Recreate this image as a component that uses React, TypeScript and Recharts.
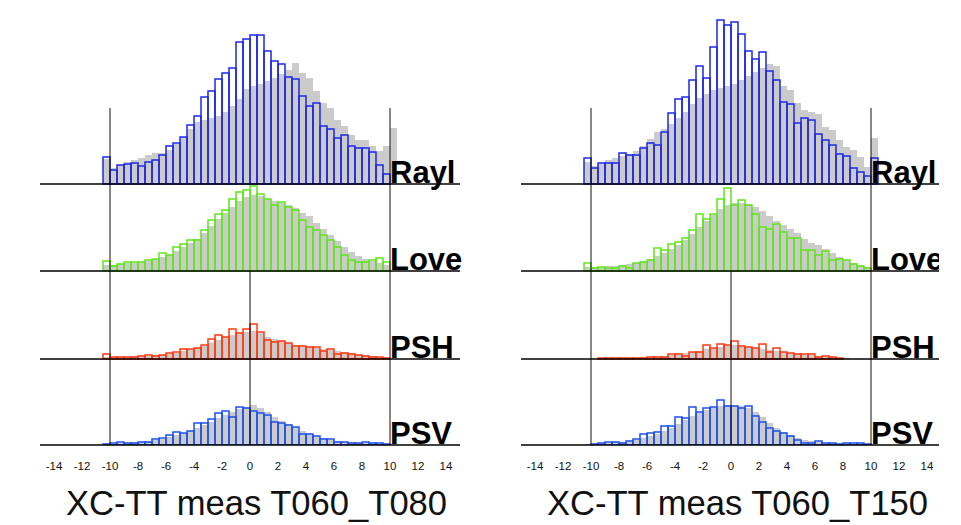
import { ComposedChart, Bar, XAxis, YAxis, ReferenceLine } from 'recharts';

// bin centres, 0.5 wide
const BIN_CENTERS = [
  -10.25, -9.75, -9.25, -8.75, -8.25, -7.75, -7.25, -6.75, -6.25, -5.75, -5.25, -4.75, -4.25, -3.75,
  -3.25, -2.75, -2.25, -1.75, -1.25, -0.75, -0.25, 0.25, 0.75, 1.25, 1.75, 2.25, 2.75, 3.25, 3.75,
  4.25, 4.75, 5.25, 5.75, 6.25, 6.75, 7.25, 7.75, 8.25, 8.75, 9.25, 9.75, 10.25,
];
const X_TICKS = [-14, -12, -10, -8, -6, -4, -2, 0, 2, 4, 6, 8, 10, 12, 14];
const PHASES = ['Rayl', 'Love', 'PSH', 'PSV'];
const TITLES = ['XC-TT meas T060_T080', 'XC-TT meas T060_T150'];

// left panel (T060_T080)
const L_RAYL = [27, 14, 19, 20, 21, 18, 22, 24, 29, 38, 41, 47, 59, 68, 87, 93, 105, 111, 116, 142, 145, 149, 149, 133, 123, 120, 107, 105, 88, 78, 81, 58, 55, 46, 49, 38, 36, 36, 32, 19, 10, 0];
const L_RAYL_REF = [25, 16, 19, 22, 24, 26, 29, 31, 31, 34, 40, 47, 55, 62, 64, 66, 68, 72, 78, 85, 95, 98, 100, 103, 106, 110, 114, 121, 111, 106, 93, 81, 76, 64, 58, 49, 44, 44, 38, 33, 38, 56];
const L_LOVE = [10, 5, 7, 9, 9, 9, 11, 12, 18, 16, 24, 27, 31, 31, 41, 51, 57, 61, 72, 79, 81, 85, 77, 72, 66, 69, 64, 61, 51, 44, 41, 36, 31, 24, 16, 11, 9, 9, 11, 13, 9, 0];
const L_LOVE_REF = [6, 6, 7, 8, 8, 9, 10, 12, 14, 16, 20, 24, 28, 32, 38, 45, 52, 58, 64, 70, 74, 76, 75, 72, 70, 68, 66, 63, 58, 55, 48, 42, 36, 30, 24, 19, 15, 12, 10, 8, 6, 0];
const L_PSH = [5, 2, 2, 2, 2, 3, 4, 3, 4, 6, 7, 10, 10, 11, 14, 20, 24, 22, 30, 26, 30, 35, 27, 19, 17, 18, 16, 13, 13, 12, 12, 8, 10, 5, 6, 5, 4, 3, 2, 2, 1, 0];
const L_PSH_REF = [2, 2, 2, 2, 3, 3, 3, 4, 4, 5, 6, 8, 9, 11, 13, 16, 19, 22, 24, 26, 27, 28, 26, 22, 20, 18, 16, 14, 13, 12, 11, 10, 9, 8, 7, 6, 5, 4, 3, 2, 1, 0];
const L_PSV = [1, 2, 3, 2, 2, 3, 3, 6, 7, 10, 13, 12, 14, 22, 22, 26, 32, 34, 28, 38, 37, 34, 32, 30, 23, 22, 20, 18, 11, 11, 9, 6, 6, 3, 3, 2, 2, 3, 2, 2, 1, 0];
const L_PSV_REF = [1, 1, 2, 2, 3, 3, 4, 5, 6, 8, 10, 12, 14, 17, 20, 23, 27, 30, 33, 36, 38, 40, 37, 33, 28, 24, 21, 18, 14, 11, 9, 7, 5, 4, 3, 3, 2, 2, 2, 1, 1, 0];

// right panel (T060_T150)
const R_RAYL = [26, 16, 21, 21, 21, 31, 29, 29, 36, 41, 39, 52, 71, 85, 87, 104, 118, 106, 137, 164, 159, 162, 150, 133, 125, 132, 113, 104, 82, 80, 61, 66, 64, 50, 44, 39, 30, 28, 16, 12, 8, 26];
const R_RAYL_REF = [22, 18, 20, 24, 26, 28, 30, 33, 38, 45, 52, 55, 60, 66, 72, 80, 86, 90, 94, 96, 98, 100, 104, 108, 112, 116, 120, 118, 98, 94, 81, 74, 72, 70, 57, 54, 44, 37, 34, 27, 17, 46];
const R_LOVE = [8, 3, 4, 3, 3, 5, 3, 8, 9, 11, 23, 21, 27, 29, 33, 41, 57, 52, 57, 72, 83, 66, 71, 66, 57, 44, 42, 47, 39, 33, 33, 21, 21, 16, 20, 11, 12, 11, 7, 5, 3, 0];
const R_LOVE_REF = [4, 4, 4, 5, 5, 6, 7, 8, 10, 12, 15, 18, 22, 26, 31, 37, 44, 50, 56, 62, 66, 68, 68, 67, 64, 60, 55, 50, 46, 42, 38, 32, 28, 26, 22, 18, 14, 11, 8, 6, 4, 0];
const R_PSH = [0, 0, 1, 1, 1, 1, 1, 1, 1, 2, 2, 2, 5, 5, 3, 7, 7, 14, 11, 15, 14, 18, 13, 12, 11, 15, 7, 11, 7, 6, 5, 5, 5, 2, 3, 2, 1, 0, 0, 0, 0, 0];
const R_PSH_REF = [0, 0, 1, 1, 1, 1, 1, 1, 2, 2, 2, 3, 4, 5, 6, 7, 8, 10, 11, 12, 13, 14, 13, 12, 11, 10, 9, 8, 7, 6, 5, 4, 4, 3, 2, 2, 1, 1, 0, 0, 0, 0];
const R_PSV = [0, 1, 2, 3, 3, 2, 4, 6, 11, 12, 13, 19, 19, 28, 27, 38, 33, 37, 38, 45, 39, 39, 37, 39, 29, 23, 17, 14, 12, 9, 5, 2, 2, 4, 2, 2, 1, 2, 2, 2, 1, 0];
const R_PSV_REF = [1, 1, 2, 2, 3, 3, 4, 5, 7, 9, 11, 14, 17, 21, 25, 29, 32, 35, 37, 39, 40, 40, 39, 37, 33, 28, 22, 17, 13, 10, 7, 5, 4, 3, 2, 2, 1, 1, 1, 1, 1, 0];

const FONT = '"Liberation Sans", Arial, Helvetica, sans-serif';
const X_DOMAIN: [number, number] = [-15, 15];
const Y_TOP = 440;
// baseline of each row (Rayl, Love, PSH, PSV), in count units
const OFFSETS = [261, 174, 86, 0];
const COLORS = ['#1e28e6', '#5fe61a', '#ff3a12', '#1e50f0'];
const REF_FILL = '#cbcbcb';
const GUIDE_TOP = 337;
const LABEL_X = 10;

function buildRows(cols: number[][]) {
  return BIN_CENTERS.map((x, i) => {
    const row: any = { x };
    cols.forEach((c, j) => {
      row['s' + j] = c[i];
    });
    return row;
  });
}

const LEFT_ROWS = buildRows([L_RAYL_REF, L_RAYL, L_LOVE_REF, L_LOVE, L_PSH_REF, L_PSH, L_PSV_REF, L_PSV]);
const RIGHT_ROWS = buildRows([R_RAYL_REF, R_RAYL, R_LOVE_REF, R_LOVE, R_PSH_REF, R_PSH, R_PSV_REF, R_PSV]);

function Panel({ rows, title, width, marginRight }: { rows: any[]; title: string; width: number; marginRight: number }) {
  const hiddenAxes = [0, 1, 2, 3, 4, 5, 6, 7].map((j) => (
    <XAxis key={'ax' + j} xAxisId={'s' + j} dataKey="x" type="number" domain={X_DOMAIN} allowDataOverflow hide />
  ));

  // grey reference histograms first, coloured outlines on top
  const greyBars = PHASES.map((p, r) => (
    <Bar
      key={'g' + p}
      xAxisId={'s' + r * 2}
      dataKey={(d: any) => [OFFSETS[r], OFFSETS[r] + d['s' + r * 2]]}
      fill={REF_FILL}
      isAnimationActive={false}
    />
  ));
  const colourBars = PHASES.map((p, r) => (
    <Bar
      key={'c' + p}
      xAxisId={'s' + (r * 2 + 1)}
      dataKey={(d: any) => [OFFSETS[r], OFFSETS[r] + d['s' + (r * 2 + 1)]]}
      fill="none"
      stroke={COLORS[r]}
      strokeWidth={1.5}
      isAnimationActive={false}
    />
  ));

  const labelFrac = (LABEL_X - X_DOMAIN[0]) / (X_DOMAIN[1] - X_DOMAIN[0]);

  return (
    <ComposedChart
      width={width}
      height={525}
      data={rows}
      margin={{ top: 5, right: marginRight, left: 40, bottom: 50 }}
      barCategoryGap={0}
      barGap={0}
    >
      {hiddenAxes}
      <XAxis
        xAxisId="main"
        dataKey="x"
        type="number"
        domain={X_DOMAIN}
        ticks={X_TICKS}
        interval={0}
        axisLine={false}
        tickLine={false}
        tickMargin={11}
        height={30}
        tick={{ fontSize: 11.5, fill: '#111', fontFamily: FONT }}
        label={{
          content: (p: any) => (
            <text
              x={p.viewBox.x + p.viewBox.width / 2 + 6.5}
              y={515}
              textAnchor="middle"
              fontSize={34.6}
              fontFamily={FONT}
              fill="#111"
            >
              {title}
            </text>
          ),
        }}
      />
      <YAxis type="number" domain={[0, Y_TOP]} allowDataOverflow hide />
      {greyBars}
      {colourBars}
      <ReferenceLine xAxisId="main" segment={[{ x: -10, y: 0 }, { x: -10, y: GUIDE_TOP }]} stroke="#111" strokeWidth={1} />
      <ReferenceLine xAxisId="main" segment={[{ x: 10, y: 0 }, { x: 10, y: GUIDE_TOP }]} stroke="#111" strokeWidth={1} />
      <ReferenceLine xAxisId="main" segment={[{ x: 0, y: 0 }, { x: 0, y: OFFSETS[1] }]} stroke="#111" strokeWidth={1} />
      {PHASES.map((p, r) => (
        <ReferenceLine
          key={'base' + p}
          xAxisId="main"
          y={OFFSETS[r]}
          stroke="#000"
          strokeWidth={1.5}
          label={{
            content: (lp: any) => (
              <text
                x={lp.viewBox.x + lp.viewBox.width * labelFrac}
                y={lp.viewBox.y - 1}
                fontSize={31}
                fontWeight="bold"
                fontFamily={FONT}
                fill="#000"
              >
                {p}
              </text>
            ),
          }}
        />
      ))}
    </ComposedChart>
  );
}

export default function App() {
  return (
    <div style={{ position: 'absolute', left: 0, top: 0, width: 961, height: 525, background: '#fff' }}>
      <div style={{ position: 'absolute', left: 0, top: 0 }}>
        <Panel rows={LEFT_ROWS} title={TITLES[0]} width={480} marginRight={20} />
      </div>
      <div style={{ position: 'absolute', left: 481, top: 0, width: 458, height: 525, overflow: 'hidden' }}>
        <Panel rows={RIGHT_ROWS} title={TITLES[1]} width={460} marginRight={0} />
      </div>
    </div>
  );
}
